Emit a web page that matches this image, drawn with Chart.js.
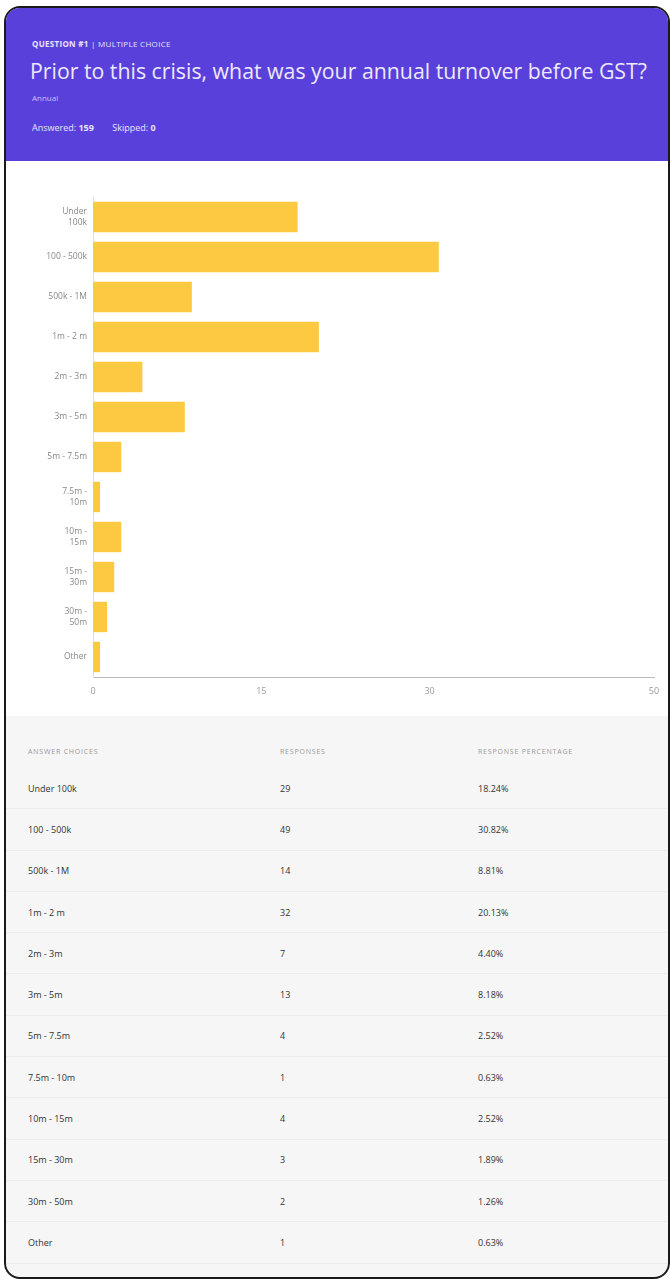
<!DOCTYPE html>
<html>
<head>
<meta charset="utf-8">
<script src="https://cdn.jsdelivr.net/npm/chart.js@4"></script>
<style>
  body { margin: 0; background: #fff; font-family: "Open Sans", sans-serif; }
  .card { position: absolute; left: 4px; top: 6px; width: 662px; height: 1269px; border: 2px solid #1a1a1a; border-radius: 16px; overflow: hidden; background: #f6f6f6; }
  .head { position: absolute; left: 0; top: 0; width: 100%; height: 153px; background: #5a40da; color: #fff; }
  .qtype { position: absolute; left: 26px; top: 30px; font-size: 8px; letter-spacing: 0.3px; color: #e8e4fb; }
  .qtype b { font-weight: 700; }
  .title { position: absolute; left: 24px; top: 48px; font-size: 21.3px; font-weight: 400; color: #ece9fb; white-space: nowrap; }
  .sub { position: absolute; left: 26px; top: 84px; font-size: 8px; color: #c9c0f3; }
  .stats { position: absolute; left: 26px; top: 113px; font-size: 9px; color: #e8e4fb; }
  .stats b { font-weight: 700; margin-right: 16px; }
  .chartbox { position: absolute; left: 0; top: 153px; width: 662px; height: 555px; background: #fff; }
  table { position: absolute; left: 0; top: 727px; width: 662px; border-collapse: collapse; font-size: 9px; color: #333; }
  th { text-align: left; font-weight: 400; font-size: 7px; letter-spacing: 0.8px; color: #999; height: 33px; padding: 0; }
  td { height: 40.3px; padding: 0; border-bottom: 1px solid #ececec; }
  td:first-child, th:first-child { padding-left: 22px; width: 252px; }
  td:nth-child(2), th:nth-child(2) { width: 198px; }
</style>
</head>
<body>
<div class="card">
  <div class="head">
    <div class="qtype"><b>QUESTION #1</b> | MULTIPLE CHOICE</div>
    <div class="title">Prior to this crisis, what was your annual turnover before GST?</div>
    <div class="sub">Annual</div>
    <div class="stats">Answered: <b>159</b> Skipped: <b>0</b></div>
  </div>
  <div class="chartbox"><canvas id="barChart"></canvas></div>
  <table id="resTable"></table>
</div>
<script>
const choices = ['Under 100k', '100 - 500k', '500k - 1M', '1m - 2 m', '2m - 3m', '3m - 5m',
  '5m - 7.5m', '7.5m - 10m', '10m - 15m', '15m - 30m', '30m - 50m', 'Other'];
const axisLabels = [['Under', '100k'], '100 - 500k', '500k - 1M', '1m - 2 m', '2m - 3m', '3m - 5m',
  '5m - 7.5m', ['7.5m -', '10m'], ['10m -', '15m'], ['15m -', '30m'], ['30m -', '50m'], 'Other'];
const responses = [29, 49, 14, 32, 7, 13, 4, 1, 4, 3, 2, 1];
const percentages = [18.24, 30.82, 8.81, 20.13, 4.40, 8.18, 2.52, 0.63, 2.52, 1.89, 1.26, 0.63];
const xTicks = [0, 15, 30, 50];

const canvas = document.getElementById('barChart');
canvas.width = 662; canvas.height = 555;

new Chart(canvas, {
    type: 'bar',
    data: {
        labels: axisLabels,
        datasets: [{ data: percentages, backgroundColor: '#fcc940', barPercentage: 0.76, categoryPercentage: 1 }]
    },
    options: {
        indexAxis: 'y',
        responsive: false,
        animation: false,
        layout: { padding: { top: 36, right: 14, bottom: 9, left: 0 } },
        plugins: { legend: { display: false }, tooltip: { enabled: false } },
        scales: {
            x: {
                min: 0, max: 50,
                afterBuildTicks: s => { s.ticks = xTicks.map(v => ({ value: v })); },
                afterFit: s => { s.height = 30; },
                grid: { display: false, drawTicks: true, tickLength: 4, tickColor: '#bbb' },
                border: { color: '#bbb' },
                ticks: { color: '#999', font: { family: 'Open Sans', size: 9 }, padding: 5, maxRotation: 0 }
            },
            y: {
                afterFit: s => { s.width = 87; },
                grid: { display: false, drawTicks: true, tickLength: 4, tickColor: '#ccc' },
                border: { color: '#ddd' },
                ticks: { color: '#888', font: { family: 'Open Sans', size: 8.5, lineHeight: 1.2 }, padding: 2 }
            }
        }
    }
});

const table = document.getElementById('resTable');
table.innerHTML = '<tr><th>ANSWER CHOICES</th><th>RESPONSES</th><th>RESPONSE PERCENTAGE</th></tr>' +
    choices.map((c, i) => `<tr><td>${c}</td><td>${responses[i]}</td><td>${percentages[i].toFixed(2)}%</td></tr>`).join('');
</script>
</body>
</html>
